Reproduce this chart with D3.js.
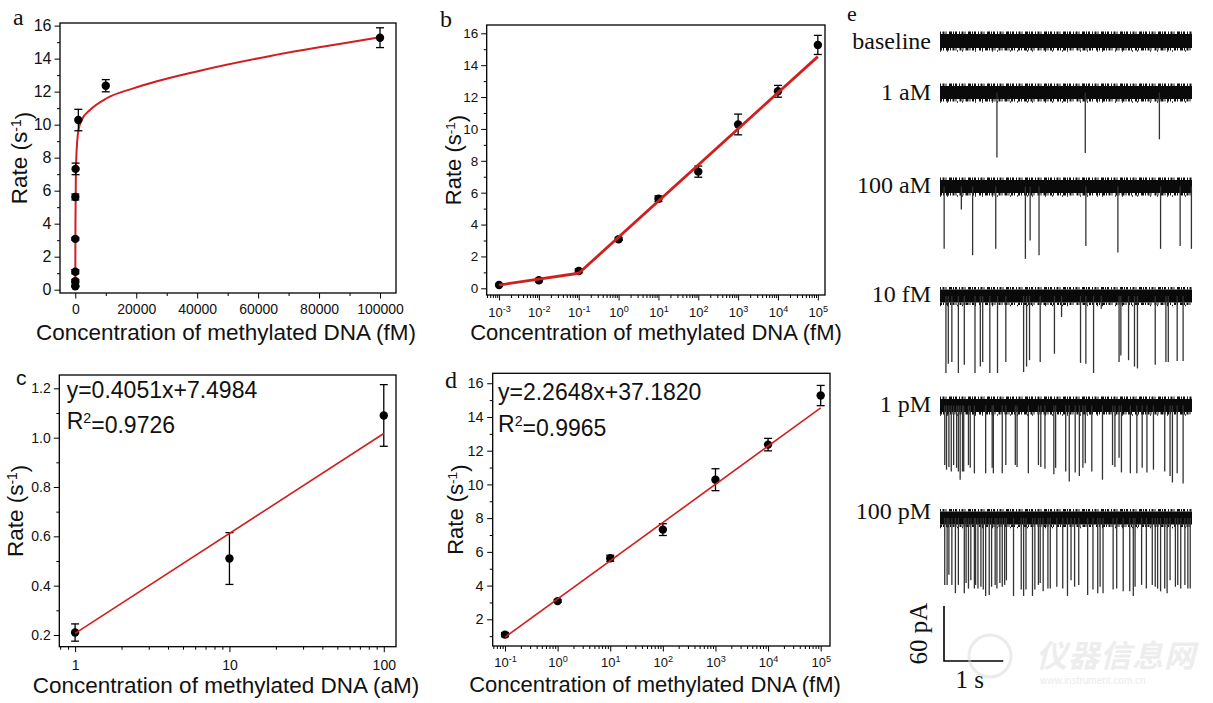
<!DOCTYPE html>
<html><head><meta charset="utf-8">
<script src="https://cdn.jsdelivr.net/npm/d3@7"></script>
<style>body{margin:0;background:#fff}svg{display:block}</style>
</head><body>
<svg id="fig" width="1213" height="703"></svg>
<script>
// ---------------- DATA ----------------
const concFM   = [0.001, 0.01, 0.1, 1, 10, 100, 1000, 10000, 100000];
const rate     = [0.21, 0.51, 1.09, 3.08, 5.62, 7.32, 10.28, 12.36, 15.27];
const rateErr  = [0.035, 0.105, 0.125, 0.08, 0.18, 0.35, 0.65, 0.37, 0.6];
const concAM   = [1, 10, 100];
const fitLowCoef  = [0.4051, 7.4984];   // slope, intercept vs log10(c / M), 1–100 aM
const fitHighCoef = [2.2648, 37.1820];  // 0.1 fM – 100 pM
const r2Values = [0.9726, 0.9965];
// red fitted curve of panel a
const curveA_x = [1, 50, 200, 656, 1200, 2090, 4824, 10300, 19040, 40920, 62800, 84670, 100000];
const curveA_y = [0.2, 4.0, 7.2, 9.07, 9.8, 10.28, 10.89, 11.6, 12.2, 13.27, 14.12, 14.83, 15.3];
const ticksA_X = [0, 20000, 40000, 60000, 80000, 100000];
const ticksRate16 = [0, 2, 4, 6, 8, 10, 12, 14, 16];
const ticksRateD = [2, 4, 6, 8, 10, 12, 14, 16];
const ticksRateC = [0.2, 0.4, 0.6, 0.8, 1.0, 1.2];
const ticksB_X = [1e-3, 1e-2, 1e-1, 1e0, 1e1, 1e2, 1e3, 1e4, 1e5];
const ticksD_X = [1e-1, 1e0, 1e1, 1e2, 1e3, 1e4, 1e5];
const ticksC_X = [1, 10, 100];

// current traces: [time (s), blockade depth (pA)]
const traceLabels = ["baseline", "1 aM", "100 aM", "10 fM", "1 pM", "100 pM"];
const spikesBaseline = [];
const spikes1aM = [[0.96,71],[2.45,66],[3.70,51]];
const spikes100aM = [[0.07,68],[0.36,25],[0.55,75],[0.94,68],[1.44,79],[1.52,59],[1.67,75],[2.46,65],[3.00,72],[3.72,68],[4.05,65],[4.24,68]];
const spikes10fM = [[0.10,84],[0.14,74],[0.20,72],[0.31,84],[0.41,75],[0.59,84],[0.68,77],[0.72,72],[0.84,84],[0.97,84],[1.11,72],[1.41,83],[1.46,77],[1.51,70],[1.69,72],[1.93,63],[2.05,23],[2.37,73],[2.46,74],[2.59,84],[2.72,14],[3.02,72],[3.05,65],[3.18,70],[3.28,77],[3.33,79],[3.63,75],[3.81,72],[3.85,72],[4.00,71],[4.10,71]];
const spikes1pM = [[0.08,65],[0.11,70],[0.15,67],[0.19,72],[0.23,65],[0.28,68],[0.31,72],[0.34,81],[0.38,72],[0.40,72],[0.48,65],[0.51,68],[0.58,74],[0.77,74],[0.88,68],[0.90,74],[1.05,74],[1.11,65],[1.27,65],[1.30,67],[1.49,74],[1.66,65],[1.70,67],[1.77,69],[1.92,75],[1.95,68],[2.12,72],[2.18,83],[2.28,73],[2.35,77],[2.41,68],[2.45,63],[2.56,72],[2.74,81],[2.91,65],[2.95,67],[3.02,57],[3.06,73],[3.21,74],[3.32,74],[3.41,68],[3.49,73],[3.60,70],[3.79,72],[3.88,77],[3.92,84],[4.00,74],[4.10,85]];
const spikes100pM = [[0.08,73],[0.12,73],[0.15,62],[0.20,73],[0.26,82],[0.31,73],[0.41,82],[0.44,71],[0.48,77],[0.52,68],[0.58,77],[0.60,73],[0.64,77],[0.69,75],[0.73,78],[0.77,85],[0.83,84],[0.87,75],[0.93,73],[0.96,77],[1.01,71],[1.05,75],[1.09,73],[1.12,68],[1.24,85],[1.37,78],[1.41,85],[1.45,78],[1.56,85],[1.60,78],[1.66,73],[1.69,71],[1.74,80],[1.82,77],[1.86,77],[1.97,75],[2.07,77],[2.15,85],[2.21,68],[2.27,75],[2.34,73],[2.49,84],[2.58,78],[2.66,82],[2.70,75],[2.75,82],[2.92,78],[2.98,77],[3.09,80],[3.20,80],[3.26,85],[3.29,75],[3.40,73],[3.48,77],[3.58,73],[3.63,75],[3.67,77],[3.72,80],[3.79,77],[3.83,82],[3.88,68],[3.97,75],[4.01,73],[4.06,77],[4.13,73],[4.18,77],[4.22,77]];
const traceSpikes = [spikesBaseline, spikes1aM, spikes100aM, spikes10fM, spikes1pM, spikes100pM];
const scaleBarValues = [60, 1]; // pA, s

// ---------------- DRAWING ----------------
const svg = d3.select("#fig");
const SANS = "'Liberation Sans', Arial, Helvetica, sans-serif";
const SERIF = "'Liberation Serif', 'Times New Roman', serif";
const RED = "#d01f1f";

function fitRate(cFM) {
  const lm = Math.log10(cFM) - 15;
  const c = cFM < 0.1 ? fitLowCoef : fitHighCoef;
  return c[0] * lm + c[1];
}
function fitLowAM(cAM) { return fitLowCoef[0] * (Math.log10(cAM) - 18) + fitLowCoef[1]; }
function logMinor(lo, hi) {
  const out = [];
  for (let e = Math.floor(Math.log10(lo)); e <= Math.ceil(Math.log10(hi)); e++)
    for (let m = 2; m <= 9; m++) { const v = m * Math.pow(10, e); if (v > lo && v < hi) out.push(v); }
  return out;
}
function styleAxis(sel) {
  sel.select(".domain").remove();
  sel.selectAll(".tick line").attr("stroke", "#000").attr("stroke-width", 1);
  sel.selectAll("text").attr("fill", "#111").attr("font-family", SANS);
}

function buildPanel(p) {
  const g = svg.append("g");
  const [x0, y0, x1, y1] = p.f;
  const x = (p.xlog ? d3.scaleLog() : d3.scaleLinear()).domain(p.xDomain).range([x0, x1]);
  const y = d3.scaleLinear().domain(p.yDomain).range([y1, y0]);
  g.append("g").attr("transform", `translate(0,${y1})`)
    .call(d3.axisBottom(x).tickValues(p.xMinor).tickSize(3).tickFormat("")).call(styleAxis);
  const xa = g.append("g").attr("transform", `translate(0,${y1})`)
    .call(d3.axisBottom(x).tickValues(p.xTicks).tickSize(5.5).tickPadding(p.xPad).tickFormat(p.xFmt)).call(styleAxis);
  xa.selectAll("text").attr("font-size", p.xFs);
  if (p.xSup) {
    xa.selectAll(".tick text").each(function (d) {
      const t = d3.select(this); const e = Math.round(Math.log10(d));
      t.text(null);
      t.append("tspan").text("10");
      t.append("tspan").attr("dy", "-0.5em").attr("font-size", "0.7em").text(e);
    });
  }
  g.append("g").attr("transform", `translate(${x0},0)`)
    .call(d3.axisLeft(y).tickValues(p.yMinor).tickSize(3).tickFormat("")).call(styleAxis);
  const ya = g.append("g").attr("transform", `translate(${x0},0)`)
    .call(d3.axisLeft(y).tickValues(p.yTicks).tickSize(5.5).tickPadding(p.yPad).tickFormat(p.yFmt)).call(styleAxis);
  ya.selectAll("text").attr("font-size", p.yFs);
  g.append("rect").attr("x", x0).attr("y", y0).attr("width", x1 - x0).attr("height", y1 - y0)
    .attr("fill", "none").attr("stroke", "#000").attr("stroke-width", 1.3);
  const yt = g.append("text").attr("transform", `translate(${p.yTitle[0]},${(y0 + y1) / 2}) rotate(-90)`)
    .attr("text-anchor", "middle").attr("font-family", SANS).attr("font-size", p.titleFs).attr("fill", "#111");
  yt.append("tspan").text("Rate (s");
  yt.append("tspan").attr("dy", "-0.42em").attr("font-size", "0.62em").text("-1");
  yt.append("tspan").attr("dy", "0.42em").text(")");
  g.append("text").attr("x", p.xTitle[0]).attr("y", p.xTitle[1]).attr("text-anchor", "middle")
    .attr("font-family", SANS).attr("font-size", p.titleFs).attr("fill", "#111")
    .text(`Concentration of methylated DNA (${p.unit})`);
  g.append("text").attr("x", p.letter[0]).attr("y", p.letter[1])
    .attr("font-family", p.letterFont || SERIF).attr("font-size", p.letterFs || 24).attr("fill", "#111").text(p.letter[2]);
  return { g, x, y };
}

function drawPoints(P, xs, ys, es) {
  const grp = P.g.append("g");
  xs.forEach((xv, i) => {
    const cx = P.x(xv), top = P.y(ys[i] + es[i]), bot = P.y(ys[i] - es[i]);
    grp.append("line").attr("x1", cx).attr("x2", cx).attr("y1", top).attr("y2", bot).attr("stroke", "#000").attr("stroke-width", 1.3);
    [top, bot].forEach(yy => grp.append("line").attr("x1", cx - 4).attr("x2", cx + 4).attr("y1", yy).attr("y2", yy).attr("stroke", "#000").attr("stroke-width", 1.3));
  });
  grp.selectAll("circle").data(xs).join("circle").attr("cx", d => P.x(d)).attr("cy", (d, i) => P.y(ys[i])).attr("r", 4.2).attr("fill", "#000");
}
function drawFit(P, xs, fn, w) {
  const line = d3.line().x(d => P.x(d)).y(d => P.y(fn(d)));
  P.g.append("path").attr("d", line(xs)).attr("fill", "none").attr("stroke", RED).attr("stroke-width", w).attr("stroke-linejoin", "round");
}
function equation(P, xPos, y1, y2, coef, r2) {
  P.g.append("text").attr("x", xPos).attr("y", y1).attr("font-family", SANS).attr("font-size", 23).attr("fill", "#111")
    .text(`y=${coef[0].toFixed(4)}x+${coef[1].toFixed(4)}`);
  const t = P.g.append("text").attr("x", xPos).attr("y", y2).attr("font-family", SANS).attr("font-size", 23).attr("fill", "#111");
  t.append("tspan").text("R");
  t.append("tspan").attr("dy", "-0.45em").attr("font-size", "0.62em").text("2");
  t.append("tspan").attr("dy", "0.45em").text("=" + r2.toFixed(4));
}
const fmtD = d3.format("d");
const fmtC = d3.format(".1f");

// ---- Panel a ----
const A = buildPanel({
  f: [60, 23, 396, 293], xDomain: [-5021, 105250], yDomain: [-0.2, 16.16],
  xTicks: ticksA_X, xMinor: [10000, 30000, 50000, 70000, 90000], xFmt: fmtD, xPad: 6, xFs: 14,
  yTicks: ticksRate16, yMinor: d3.range(1, 16, 2), yFmt: fmtD, yPad: 3, yFs: 16,
  yTitle: [27], xTitle: [226, 340], titleFs: 22.5, unit: "fM", letter: [13, 25, "a"]
});
A.g.append("path")
  .attr("d", d3.line().curve(d3.curveMonotoneX).x(d => A.x(d)).y((d, i) => A.y(curveA_y[i]))(curveA_x))
  .attr("fill", "none").attr("stroke", RED).attr("stroke-width", 2);
drawPoints(A, concFM, rate, rateErr);

// ---- Panel b ----
const B = buildPanel({
  f: [486.7, 25, 825, 295], xlog: true, xDomain: [Math.pow(10, -3.31), Math.pow(10, 5.18)], yDomain: [-0.42, 16.52],
  xTicks: ticksB_X, xMinor: logMinor(Math.pow(10, -3.31), Math.pow(10, 5.18)), xFmt: fmtD, xSup: true, xPad: 7, xFs: 13,
  yTicks: ticksRate16, yMinor: d3.range(1, 16, 2), yFmt: fmtD, yPad: 3, yFs: 13.5,
  yTitle: [461], xTitle: [656, 340], titleFs: 22, unit: "fM", letter: [440, 27, "b"]
});
drawPoints(B, concFM, rate, rateErr);
drawFit(B, [0.001, 0.1], fitRate, 2.8);
drawFit(B, [0.1, 100000], fitRate, 2.8);

// ---- Panel c ----
const C = buildPanel({
  f: [59.3, 375, 396, 646.7], xlog: true, xDomain: [0.79, 120], yDomain: [0.1526, 1.254],
  xTicks: ticksC_X, xMinor: logMinor(0.79, 120), xFmt: fmtD, xPad: 8, xFs: 14,
  yTicks: ticksRateC, yMinor: [0.3, 0.5, 0.7, 0.9, 1.1], yFmt: fmtC, yPad: 3, yFs: 14,
  yTitle: [23], xTitle: [226, 693], titleFs: 22.5, unit: "aM", letter: [16, 385, "c"], letterFont: SANS, letterFs: 21
});
drawPoints(C, concAM, rate.slice(0, 3), rateErr.slice(0, 3));
drawFit(C, [1, 100], fitLowAM, 1.6);
equation(C, 66.7, 398, 429, fitLowCoef, r2Values[0]);

// ---- Panel d ----
const D = buildPanel({
  f: [492.7, 373.3, 830, 646], xlog: true, xDomain: [Math.pow(10, -1.234), Math.pow(10, 5.177)], yDomain: [0.417, 16.59],
  xTicks: ticksD_X, xMinor: logMinor(Math.pow(10, -1.234), Math.pow(10, 5.177)), xFmt: fmtD, xSup: true, xPad: 6, xFs: 13,
  yTicks: ticksRateD, yMinor: d3.range(1, 17, 2), yFmt: fmtD, yPad: 3.5, yFs: 14.5,
  yTitle: [463], xTitle: [655, 692], titleFs: 22, unit: "fM", letter: [445, 388, "d"]
});
drawPoints(D, concFM.slice(2), rate.slice(2), rateErr.slice(2));
drawFit(D, [0.1, 100000], fitRate, 1.6);
equation(D, 498, 400, 432, fitHighCoef, r2Values[1]);

// ---- Panel e : current traces ----
const E = svg.append("g");
const rowCenter = [41, 92.5, 186.5, 296, 405.5, 518];
const labelBase = [49, 100, 193, 302, 412, 519];
const xT = d3.scaleLinear().domain([0, 4.25]).range([940, 1192]);
const iPx = d3.scaleLinear().domain([0, 60]).range([0, 55]);
E.append("text").attr("x", 847).attr("y", 21).attr("font-family", SERIF).attr("font-size", 22).attr("fill", "#111").text("e");
const dashTop = "1,1.5,2,1,1,2.5,3,1,1,1,2,2";
const dashBot = "2,1,1,2,3,1,1,1.5,2,1,1,3";
traceLabels.forEach((lab, i) => {
  const cy = rowCenter[i];
  const half = i === 0 ? 7 : 6.5;
  const xa = xT(0), xb = xT(4.25);
  E.append("rect").attr("x", xa).attr("y", cy - half).attr("width", xb - xa).attr("height", 2 * half).attr("fill", "#0a0a0a");
  // ragged noise edges
  E.append("line").attr("x1", xa).attr("x2", xb).attr("y1", cy - half - 1.2).attr("y2", cy - half - 1.2)
    .attr("stroke", "#111").attr("stroke-width", 2.4).attr("stroke-dasharray", dashTop);
  E.append("line").attr("x1", xa).attr("x2", xb).attr("y1", cy + half + 1.2).attr("y2", cy + half + 1.2)
    .attr("stroke", "#111").attr("stroke-width", 2.4).attr("stroke-dasharray", dashBot);
  E.append("line").attr("x1", xa).attr("x2", xb).attr("y1", cy + half + 3).attr("y2", cy + half + 3)
    .attr("stroke", "#222").attr("stroke-width", 1.6).attr("stroke-dasharray", "1,6,1,9,1,4,1,12");
  E.append("g").selectAll("line").data(traceSpikes[i]).join("line")
    .attr("x1", d => xT(d[0])).attr("x2", d => xT(d[0]))
    .attr("y1", cy).attr("y2", d => cy + iPx(d[1]))
    .attr("stroke", "#333").attr("stroke-width", 1.3);
  E.append("text").attr("x", 931).attr("y", labelBase[i]).attr("text-anchor", "end")
    .attr("font-family", SERIF).attr("font-size", 24).attr("fill", "#111").text(lab);
});
// scale bar
const sbx = 944, sby = 661;
E.append("path").attr("d", `M${sbx},${sby - iPx(scaleBarValues[0])}V${sby}H${sbx + (xT(scaleBarValues[1]) - xT(0))}`)
  .attr("fill", "none").attr("stroke", "#000").attr("stroke-width", 1.6);
E.append("text").attr("transform", `translate(927,${sby - iPx(scaleBarValues[0]) / 2}) rotate(-90)`).attr("text-anchor", "middle")
  .attr("font-family", SERIF).attr("font-size", 25).attr("fill", "#111").text(`${scaleBarValues[0]} pA`);
E.append("text").attr("x", sbx + (xT(scaleBarValues[1]) - xT(0)) / 2 - 4).attr("y", 688).attr("text-anchor", "middle")
  .attr("font-family", SERIF).attr("font-size", 25).attr("fill", "#111").text(`${scaleBarValues[1]} s`);
// faint watermark
const W = svg.append("g").attr("opacity", 0.5);
W.append("circle").attr("cx", 990).attr("cy", 656).attr("r", 21).attr("fill", "none").attr("stroke", "#d8d8d8").attr("stroke-width", 3);
W.append("text").attr("x", 1036).attr("y", 667).attr("font-family", "'Noto Sans CJK SC', sans-serif").attr("font-weight", "bold")
  .attr("font-style", "italic").attr("font-size", 31).attr("fill", "#dcdcdc").attr("letter-spacing", 1).text("仪器信息网");
W.append("text").attr("x", 1040).attr("y", 684).attr("font-family", SANS).attr("font-size", 10).attr("fill", "#d8d8d8")
  .text("www.instrument.com.cn");
</script>
</body></html>
